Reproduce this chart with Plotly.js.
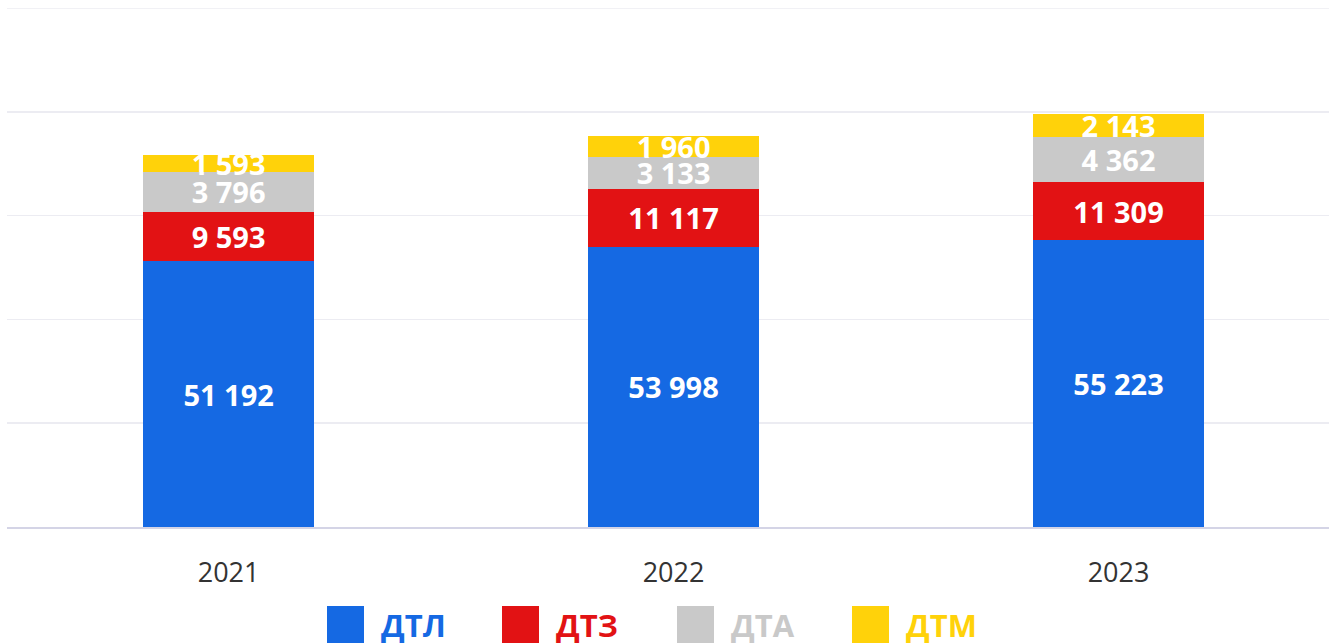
<!DOCTYPE html>
<html>
<head>
<meta charset="utf-8">
<script src="https://cdn.plot.ly/plotly-3.0.1.min.js"></script>
<style>html,body{margin:0;padding:0;background:#fff;}#chart{width:1329px;height:643px;}</style>
</head>
<body>
<div id="chart"></div>
<script>
// Categories
const years = ['2021', '2022', '2023'];
// Series labels (values printed on the bars)
const dtlValues = [51192, 53998, 55223];
const dtzValues = [9593, 11117, 11309];
const dtaValues = [3796, 3133, 4362];
const dtmValues = [1593, 1960, 2143];
// Segment heights as drawn in the picture (the two small series are drawn taller than their labels)
const dtaHeights = [7650, 6200, 8700];
const dtmHeights = [3150, 4050, 4250];
// Legend names
const seriesNames = ['ДТЛ', 'ДТЗ', 'ДТА', 'ДТМ'];
const seriesColors = ['#1569E3', '#E21214', '#C9C9C9', '#FFD20A'];

function fmt(v) { return String(v).replace(/\B(?=(\d{3})+(?!\d))/g, ' '); }

const heights = [dtlValues, dtzValues, dtaHeights, dtmHeights];
const labels = [dtlValues, dtzValues, dtaValues, dtmValues];

const traces = heights.map((h, i) => ({
  type: 'bar',
  name: seriesNames[i],
  x: years,
  y: h,
  width: 0.384,
  marker: {color: seriesColors[i], line: {width: 0}},
  text: labels[i].map(fmt),
  textposition: 'inside',
  insidetextanchor: 'middle',
  textangle: 0,
  constraintext: 'none',
  cliponaxis: false,
  textfont: {family: 'Open Sans, sans-serif', size: 29, color: '#ffffff', weight: 700},
  hoverinfo: 'skip',
  showlegend: false
}));

const W = 1329, H = 643, ml = 7, mr = 0, mt = 8, mb = 116;
const pw = W - ml - mr, ph = H - mt - mb;
const px = x => (x - ml) / pw;
const py = y => (H - mb - y) / ph;

const legendSquares = [327, 502, 677, 852];
const shapes = [{type: 'line', xref: 'paper', yref: 'y', x0: 0, x1: 1, y0: 100000, y1: 100000,
  line: {color: '#ececf2', width: 1.5}, layer: 'below'}];
const annotations = [];
seriesNames.forEach((n, i) => {
  shapes.push({type: 'rect', xref: 'paper', yref: 'paper',
    x0: px(legendSquares[i]), x1: px(legendSquares[i] + 37),
    y0: py(606), y1: py(660), fillcolor: seriesColors[i], line: {width: 0}, layer: 'above'});
  annotations.push({xref: 'paper', yref: 'paper', x: px(legendSquares[i] + 52), y: py(625),
    xanchor: 'left', yanchor: 'middle', showarrow: false, text: '<b>' + n + '</b>',
    font: {family: 'Open Sans, sans-serif', size: 31, color: seriesColors[i]}});
});

const layout = {
  width: W, height: H,
  margin: {l: ml, r: mr, t: mt, b: mb, pad: 0},
  barmode: 'stack',
  paper_bgcolor: '#ffffff',
  plot_bgcolor: '#ffffff',
  showlegend: false,
  xaxis: {
    type: 'category',
    range: [-0.498, 2.473],
    showgrid: false,
    showline: true, linecolor: '#d4d4e6', linewidth: 1.5,
    ticks: 'outside', ticklen: 21, tickcolor: 'rgba(0,0,0,0)',
    tickfont: {family: 'Open Sans, sans-serif', size: 27, color: '#333333'},
    fixedrange: true
  },
  yaxis: {
    range: [0, 100000],
    dtick: 20000,
    showgrid: true, gridcolor: '#ececf2', gridwidth: 1.5,
    zeroline: false,
    showticklabels: false,
    ticks: '',
    fixedrange: true
  },
  shapes: shapes,
  annotations: annotations
};

Plotly.newPlot('chart', traces, layout, {displayModeBar: false, staticPlot: true});
</script>
</body>
</html>
